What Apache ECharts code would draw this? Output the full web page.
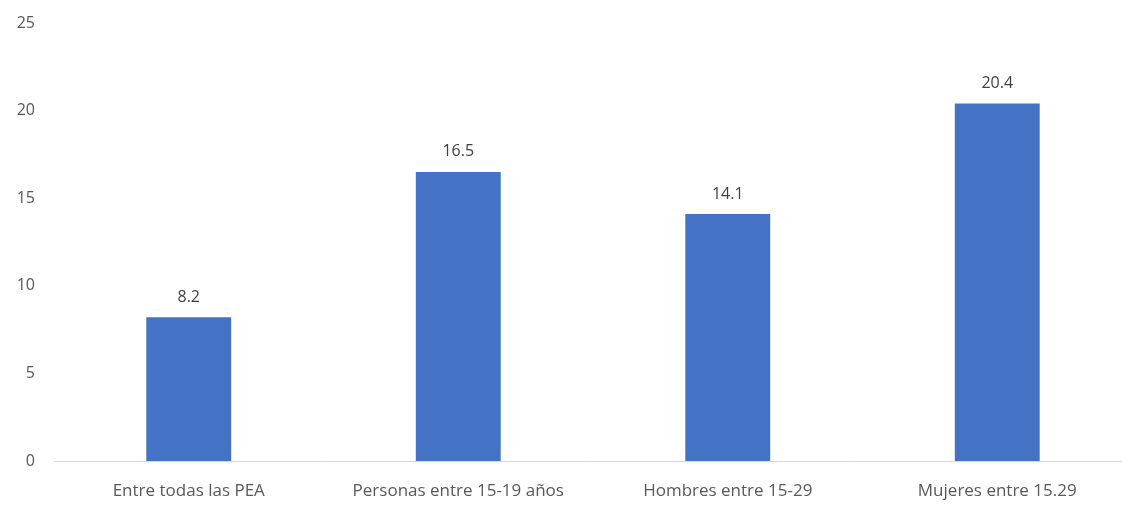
<!DOCTYPE html>
<html>
<head>
<meta charset="utf-8">
<script src="https://cdn.jsdelivr.net/npm/echarts@6/dist/echarts.min.js"></script>
<style>html,body{margin:0;padding:0;background:#fff;}#c{width:1122px;height:508px;}</style>
</head>
<body>
<div id="c"></div>
<script>
const categories = ["Entre todas las PEA", "Personas entre 15-19 años", "Hombres entre 15-29", "Mujeres entre 15.29"];
const values = [8.2, 16.5, 14.1, 20.4];
const yTicks = [0, 5, 10, 15, 20, 25];

const chart = echarts.init(document.getElementById('c'));
chart.setOption({
  animation: false,
  grid: { left: 54, top: 23, width: 1078, bottom: 47, containLabel: false, outerBoundsMode: 'none' },
  xAxis: {
    type: 'category',
    data: categories,
    axisLine: { show: true, lineStyle: { color: '#d9d9d9', width: 1 } },
    axisTick: { show: false },
    axisLabel: { interval: 0, hideOverlap: false, color: '#595959', fontSize: 17, fontFamily: 'Open Sans, sans-serif', margin: 22 }
  },
  yAxis: {
    type: 'value',
    min: yTicks[0],
    max: yTicks[yTicks.length - 1],
    interval: 5,
    splitLine: { show: false },
    axisLine: { show: false },
    axisTick: { show: false },
    axisLabel: { color: '#595959', fontSize: 16, fontFamily: 'Open Sans, sans-serif', margin: 19 }
  },
  series: [{
    type: 'bar',
    data: values,
    barWidth: '31.5%',
    itemStyle: { color: '#4472C4' },
    label: {
      show: true,
      position: 'top',
      distance: 12,
      color: '#404040',
      fontSize: 16,
      fontFamily: 'Open Sans, sans-serif',
      formatter: p => p.value.toFixed(1)
    }
  }]
});
</script>
</body>
</html>
